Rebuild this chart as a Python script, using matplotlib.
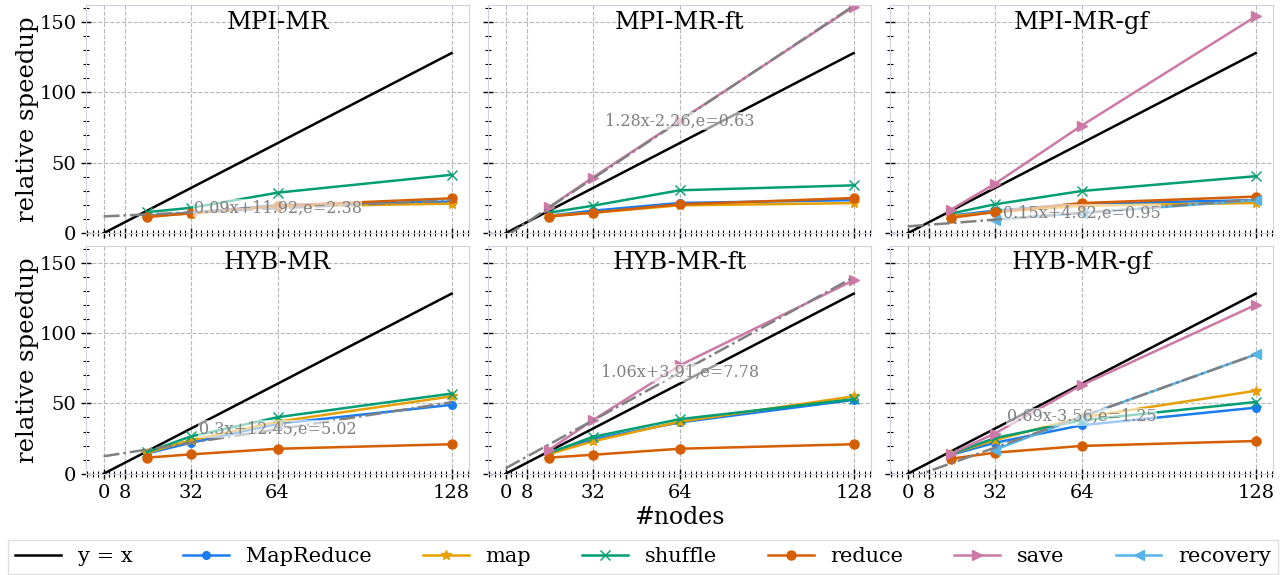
import numpy as np
import matplotlib
matplotlib.use("Agg")
import matplotlib.pyplot as plt
from matplotlib.ticker import MultipleLocator, FixedLocator

plt.rcParams['font.family'] = 'DejaVu Serif'

NODES = [16, 32, 64, 128]
RECOVERY_NODES = [32, 64, 128]
XTICKS = [0, 8, 32, 64, 128]

MPI_MR = {
    "MapReduce": [12.5, 14.5, 20, 22.5],
    "map": [12, 14, 19, 21],
    "shuffle": [15, 18, 28.8, 41.5],
    "reduce": [11.5, 14.2, 19.5, 24.8],
}
MPI_MR_FT = {
    "MapReduce": [12.5, 16, 21.5, 23.5],
    "map": [12.5, 14.5, 19.8, 21.4],
    "shuffle": [14.6, 19.5, 30.5, 34],
    "reduce": [11.8, 14.6, 20.5, 25],
    "save": [18.5, 39.5, 80, 161],
}
MPI_MR_GF = {
    "MapReduce": [12.5, 16, 21, 23.5],
    "map": [12, 15, 19.5, 21.5],
    "shuffle": [14, 20.5, 30, 40.5],
    "reduce": [11, 15, 21.4, 26],
    "save": [16.8, 35, 76.5, 154],
    "recovery": [9.7, 14.3, 23.5],
}
HYB_MR = {
    "MapReduce": [14.5, 22, 35.5, 49],
    "map": [15, 23.8, 37, 55],
    "shuffle": [15.4, 26.5, 40.2, 57],
    "reduce": [11.5, 13.8, 17.8, 21],
}
HYB_MR_FT = {
    "MapReduce": [14.5, 24.5, 36.5, 52.5],
    "map": [14, 23, 37, 55],
    "shuffle": [14.8, 26.2, 38.8, 53],
    "reduce": [11.5, 13.5, 17.8, 21],
    "save": [17, 38, 77, 137.5],
}
HYB_MR_GF = {
    "MapReduce": [13.5, 22, 34.5, 47],
    "map": [14, 24, 40, 59],
    "shuffle": [14, 25.4, 38, 51],
    "reduce": [10.7, 15, 19.8, 23.3],
    "save": [14.3, 28.6, 63, 120],
    "recovery": [17, 40.5, 84.8],
}

TITLES = ["MPI-MR", "MPI-MR-ft", "MPI-MR-gf", "HYB-MR", "HYB-MR-ft", "HYB-MR-gf"]
PANELS = [MPI_MR, MPI_MR_FT, MPI_MR_GF, HYB_MR, HYB_MR_FT, HYB_MR_GF]
# linear fit (slope, intercept, error) shown in each panel
FITS = [(0.09, 11.92, 2.38), (1.28, -2.26, 0.63), (0.15, 4.82, 0.95),
        (0.3, 12.45, 5.02), (1.06, 3.91, 7.78), (0.69, -3.56, 1.25)]

STYLE = {
    "MapReduce": dict(color="#1a7cf0", marker="o", ms=5.5),
    "map": dict(color="#e69f00", marker="*", ms=7),
    "shuffle": dict(color="#009e73", marker="x", ms=6.5),
    "reduce": dict(color="#d55e00", marker="o", ms=6.5),
    "save": dict(color="#cc79a7", marker=">", ms=7),
    "recovery": dict(color="#56b4e9", marker="<", ms=7),
}

fig, axes = plt.subplots(2, 3, figsize=(12.86, 5.75), dpi=100, sharex=True, sharey=True)
fig.subplots_adjust(left=0.067, right=0.99, top=0.991, bottom=0.176, wspace=0.05, hspace=0.055)

handles = {}
for ax, title, panel, fit in zip(axes.flat, TITLES, PANELS, FITS):
    xs = np.array([0, 128])
    h, = ax.plot(xs, xs, color="black", lw=1.8, label="y = x")
    handles["y = x"] = h
    for name, vals in panel.items():
        x = RECOVERY_NODES if name == "recovery" else NODES
        h, = ax.plot(x, vals, lw=1.8, label=name, **STYLE[name])
        handles[name] = h
    a, b, e = fit
    ax.plot(xs, a * xs + b, color="gray", ls="-.", lw=1.8)
    ax.text(64, a * 64 + b, f"{a:g}x{b:+g},e={e:g}", color="gray", fontsize=11.5,
            ha="center", va="center",
            bbox=dict(facecolor="white", alpha=0.6, edgecolor="none", pad=0.5))
    ax.text(0.5, 0.975, title, transform=ax.transAxes, ha="center", va="top", fontsize=17.5)

    ax.set_xlim(-6.4, 134.4)
    ax.set_ylim(0, 162)
    ax.xaxis.set_major_locator(FixedLocator(XTICKS))
    ax.xaxis.set_minor_locator(MultipleLocator(2))
    ax.yaxis.set_major_locator(FixedLocator([0, 50, 100, 150]))
    ax.yaxis.set_minor_locator(MultipleLocator(10))
    ax.tick_params(which="major", direction="inout", length=7, width=1, labelsize=14)
    ax.tick_params(which="minor", direction="inout", length=4, width=0.8)
    ax.grid(True, which="major", ls="--", color="#b8b8b8", lw=0.8)
    for sp in ax.spines.values():
        sp.set_color("#d0d0e0")

for ax in axes[:, 0]:
    ax.set_ylabel("relative speedup", fontsize=17.5, labelpad=0)
axes[1, 1].set_xlabel("#nodes", fontsize=17, labelpad=3)

order = ["y = x", "MapReduce", "map", "shuffle", "reduce", "save", "recovery"]
leg = fig.legend([handles[k] for k in order], order, loc="upper left",
                 bbox_to_anchor=(0.006, 0.061, 0.988, 0), mode="expand",
                 ncol=7, fontsize=15, frameon=True, fancybox=False,
                 handlelength=2.2, borderaxespad=0, borderpad=0.35)
leg.get_frame().set_edgecolor("#d8d8d8")

fig.savefig("out.png", dpi=100)
